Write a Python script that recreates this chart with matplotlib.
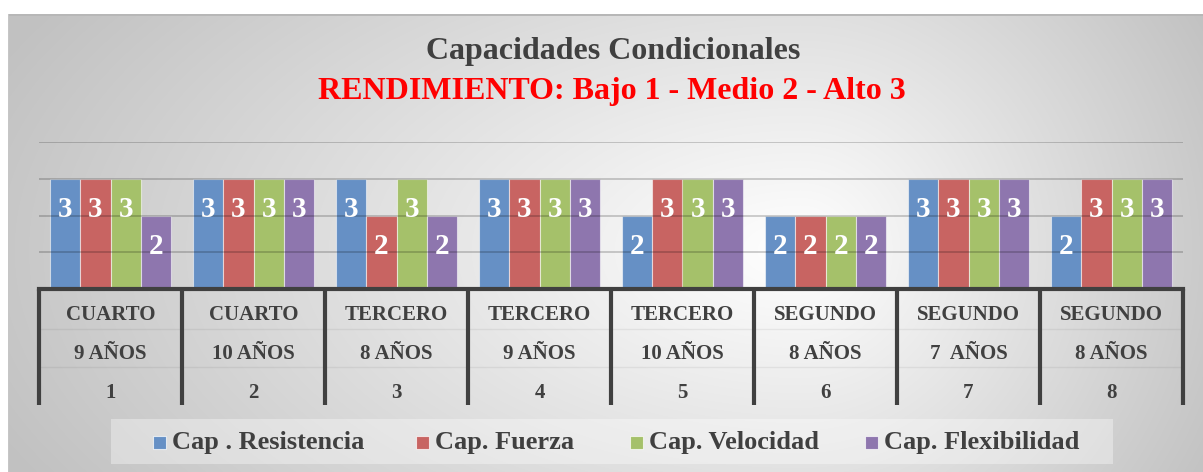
import numpy as np
import matplotlib
matplotlib.use("Agg")
import matplotlib.pyplot as plt
from matplotlib.patches import Rectangle
from matplotlib import font_manager as fm

# ---------------- data ----------------
series_names = ["Cap . Resistencia", "Cap. Fuerza", "Cap. Velocidad", "Cap. Flexibilidad"]
resistencia = [3, 3, 3, 3, 2, 2, 3, 2]
fuerza = [3, 3, 2, 3, 3, 2, 3, 3]
velocidad = [3, 3, 3, 3, 3, 2, 3, 3]
flexibilidad = [2, 3, 2, 3, 3, 2, 3, 3]
level1 = ["CUARTO", "CUARTO", "TERCERO", "TERCERO", "TERCERO", "SEGUNDO", "SEGUNDO", "SEGUNDO"]
level2 = ["9 AÑOS", "10 AÑOS", "8 AÑOS", "9 AÑOS", "10 AÑOS", "8 AÑOS", "7  AÑOS", "8 AÑOS"]
level3 = ["1", "2", "3", "4", "5", "6", "7", "8"]
title1 = "Capacidades Condicionales"
title2 = "RENDIMIENTO: Bajo 1 - Medio 2 - Alto 3"

colors = ["#6690C5", "#C86462", "#A5C16A", "#8E76AE"]

def FP(size):
    return fm.FontProperties(family=["Liberation Serif", "DejaVu Serif"], weight="bold", size=size)

W, H = 1203, 472

def fx(px):
    return px / W

def fy(py):
    return 1 - py / H

fig = plt.figure(figsize=(W / 100, H / 100), dpi=100)

# ---------------- background (radial gradient chart area) ----------------
yy, xx = np.mgrid[0:H, 0:W].astype(float)
cx, cy = 800.0, 250.0
dx = xx - cx
rx = np.where(dx < 0, 800.0, 430.0)
r = np.sqrt((dx / rx) ** 2 + ((yy - cy) / 420.0) ** 2)
v = 255 - 56 * np.clip(r, 0, 1.1)
img = np.stack([v, v, v], axis=-1) / 255.0
img[:14, :, :] = 1.0
img[:, :8, :] = 1.0
img[14:16, 8:, :] = 0.72
img[14:, 8:9, :] = 0.78
bg = fig.add_axes([0, 0, 1, 1], zorder=-5)
bg.imshow(img, aspect="auto", interpolation="bilinear")
bg.axis("off")

# ---------------- main axes ----------------
ax = fig.add_axes([fx(39), fy(289), fx(1183) - fx(39), fy(142) - fy(289)])
ax.set_facecolor("none")
ax.set_xlim(-0.5, 7.5)
ax.set_ylim(0, 4)
for s in ["top", "left", "right"]:
    ax.spines[s].set_visible(False)
ax.spines["bottom"].set_linewidth(3)
ax.spines["bottom"].set_color("#404040")
ax.tick_params(length=0, labelbottom=False, labelleft=False)

x = np.arange(len(level1))
bw = 0.213
data = [resistencia, fuerza, velocidad, flexibilidad]
for j, (vals, c) in enumerate(zip(data, colors)):
    off = (j - 1.5) * bw
    ax.bar(x + off, vals, width=bw, color=c, edgecolor=(1, 1, 1, 0.55),
           linewidth=0.8, zorder=1)
    for xi, vi in zip(x, vals):
        ax.annotate(str(vi), (xi + off, vi), xytext=(0, -31), textcoords="offset pixels",
                    ha="center", va="center", color="white", fontproperties=FP(21),
                    zorder=4)

# gridlines (drawn over bars, semi-transparent)
ax.hlines([1, 2, 3, 4], -0.5, 7.5, colors="black", alpha=0.2, linewidth=1.3, zorder=2)

# multi-level category axis
tr = ax.get_xaxis_transform()
ax.vlines(np.arange(-0.5, 8, 1), -0.789, 0, transform=tr, colors="#404040",
          linewidth=3, clip_on=False, zorder=3)
ax.hlines([-0.27, -0.53], -0.5, 7.5, transform=tr, colors="black", alpha=0.06,
          linewidth=1, clip_on=False)
for i in range(len(level1)):
    for yv, lab in zip([-0.177, -0.445, -0.705], [level1[i], level2[i], level3[i]]):
        ax.text(i, yv, lab, transform=tr, ha="center", va="center",
                fontproperties=FP(15), color="#404040", clip_on=False)

# ---------------- titles ----------------
fig.text(fx(613), fy(52), title1, ha="center", va="center", fontproperties=FP(23),
         color="#404040")
fig.text(fx(612), fy(91), title2, ha="center", va="center", fontproperties=FP(23),
         color="#FF0000")

# ---------------- legend ----------------
fig.patches.append(Rectangle((fx(111), fy(464)), fx(1113) - fx(111), fy(419) - fy(464),
                             transform=fig.transFigure, facecolor="white", alpha=0.35,
                             edgecolor="none", zorder=1))
leg_x = [153, 416, 630, 865]
for name, c, lx in zip(series_names, colors, leg_x):
    fig.patches.append(Rectangle((fx(lx), fy(449)), fx(13), 13 / H,
                                 transform=fig.transFigure, facecolor=c,
                                 edgecolor=(1, 1, 1, 0.7), linewidth=0.8, zorder=2))
    fig.text(fx(lx + 19), fy(442), name, ha="left", va="center", fontproperties=FP(19),
             color="#404040", zorder=3)

fig.savefig("out.png", dpi=100)
